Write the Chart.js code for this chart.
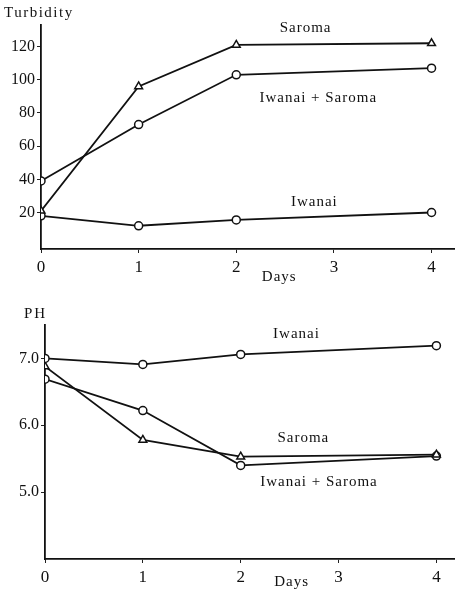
<!DOCTYPE html>
<html>
<head>
<meta charset="utf-8">
<script src="https://cdn.jsdelivr.net/npm/chart.js@4.4.1/dist/chart.umd.min.js"></script>
<style>
  body { margin: 0; background: #fff; }
  .box { position: absolute; left: 0; width: 460px; }
  #top { top: 0; height: 290px; }
  #bot { top: 290px; height: 303px; }
</style>
</head>
<body>
<div class="box" id="top"><canvas id="turb" width="460" height="290"></canvas></div>
<div class="box" id="bot"><canvas id="ph" width="460" height="303"></canvas></div>
<script>
// days sampled
const days = [0, 1, 2, 4]
const xTicks = [0, 1, 2, 3, 4]

// turbidity
const turbSaroma = [21, 96, 121, 122]
const turbMix = [39, 73, 103, 107]
const turbIwanai = [18, 12, 15.5, 20]
const turbTicks = [20, 40, 60, 80, 100, 120]

// pH
const phIwanai = [7.0, 6.91, 7.06, 7.19]
const phSaroma = [6.88, 5.78, 5.53, 5.56]
const phMix = [6.69, 6.22, 5.40, 5.54]
const phTicks = [5.0, 6.0, 7.0]

const serif = "'Liberation Serif', 'DejaVu Serif', serif"

function pts(ys) {
  return days.map((d, i) => ({ x: d, y: ys[i] }))
}

function ds(label, ys, style) {
  return {
    label: label,
    data: pts(ys),
    borderColor: '#111',
    borderWidth: 1.8,
    backgroundColor: '#fff',
    pointStyle: style,
    pointRadius: style == 'triangle' ? 4.5 : 4,
    pointBorderWidth: 1.5,
    pointBorderColor: '#111',
    pointBackgroundColor: '#fff',
    tension: 0
  }
}

// text labels placed in data units
const textPlugin = {
  id: 'texts',
  afterDraw(chart, args, opts) {
    const ctx = chart.ctx
    const sx = chart.scales.x, sy = chart.scales.y
    ctx.save()
    ctx.fillStyle = '#111'
    ctx.textBaseline = 'middle'
    opts.items.forEach(t => {
      ctx.font = (t.size || 15) + 'px ' + serif
      ctx.letterSpacing = (t.spacing || 1) + 'px'
      ctx.textAlign = t.align || 'center'
      let px = t.px != null ? t.px : sx.getPixelForValue(t.x)
      let py = t.py != null ? t.py : sy.getPixelForValue(t.y)
      ctx.fillText(t.text, px, py)
    })
    ctx.restore()
  }
}

function makeChart(id, sets, yMin, yMax, xMax, yTicks, yFmt, padTop, yWidth, xHeight, texts) {
  const ctx = document.getElementById(id).getContext('2d')
  return new Chart(ctx, {
    type: 'line',
    data: { datasets: sets },
    plugins: [textPlugin],
    options: {
      responsive: false,
      animation: false,
      layout: { padding: { top: padTop, right: 0, left: 0, bottom: 0 } },
      plugins: {
        legend: { display: false },
        tooltip: { enabled: false },
        texts: { items: texts }
      },
      scales: {
        x: {
          type: 'linear',
          min: 0,
          max: xMax,
          afterBuildTicks: s => { s.ticks = xTicks.map(v => ({ value: v })) },
          afterFit: s => { s.height = xHeight },
          grid: { drawOnChartArea: false, drawTicks: true, tickLength: 4, color: '#222' },
          border: { display: true, color: '#111', width: 1.8 },
          ticks: { color: '#111', font: { family: serif, size: 17 }, padding: 4, maxRotation: 0 }
        },
        y: {
          min: yMin,
          max: yMax,
          afterBuildTicks: s => { s.ticks = yTicks.map(v => ({ value: v })) },
          afterFit: s => { s.width = yWidth },
          grid: { drawOnChartArea: false, drawTicks: true, tickLength: 4, color: '#222' },
          border: { display: true, color: '#111', width: 1.8 },
          ticks: { color: '#111', font: { family: serif, size: 16 }, padding: 2, callback: yFmt }
        }
      }
    }
  })
}

makeChart('turb',
  [ds('Saroma', turbSaroma, 'triangle'), ds('Iwanai + Saroma', turbMix, 'circle'), ds('Iwanai', turbIwanai, 'circle')],
  -2, 133, 4.23, turbTicks, v => String(v), 25, 41, 41,
  [
    { text: 'Turbidity', px: 4, py: 13, align: 'left', size: 15, spacing: 1.5 },
    { text: 'Saroma', x: 2.71, y: 131 },
    { text: 'Iwanai + Saroma', x: 2.84, y: 89 },
    { text: 'Iwanai', x: 2.80, y: 26 },
    { text: 'Days', x: 2.44, y: -19 }
  ])

makeChart('ph',
  [ds('Iwanai', phIwanai, 'circle'), ds('Saroma', phSaroma, 'triangle'), ds('Iwanai + Saroma', phMix, 'circle')],
  4.0, 7.5, 4.18, phTicks, v => v.toFixed(1), 35, 45, 34,
  [
    { text: 'PH', px: 24, py: 24, align: 'left', size: 15, spacing: 2 },
    { text: 'Iwanai', x: 2.57, y: 7.36 },
    { text: 'Saroma', x: 2.64, y: 5.81 },
    { text: 'Iwanai + Saroma', x: 2.80, y: 5.15 },
    { text: 'Days', x: 2.52, y: 3.65 }
  ])
</script>
</body>
</html>
